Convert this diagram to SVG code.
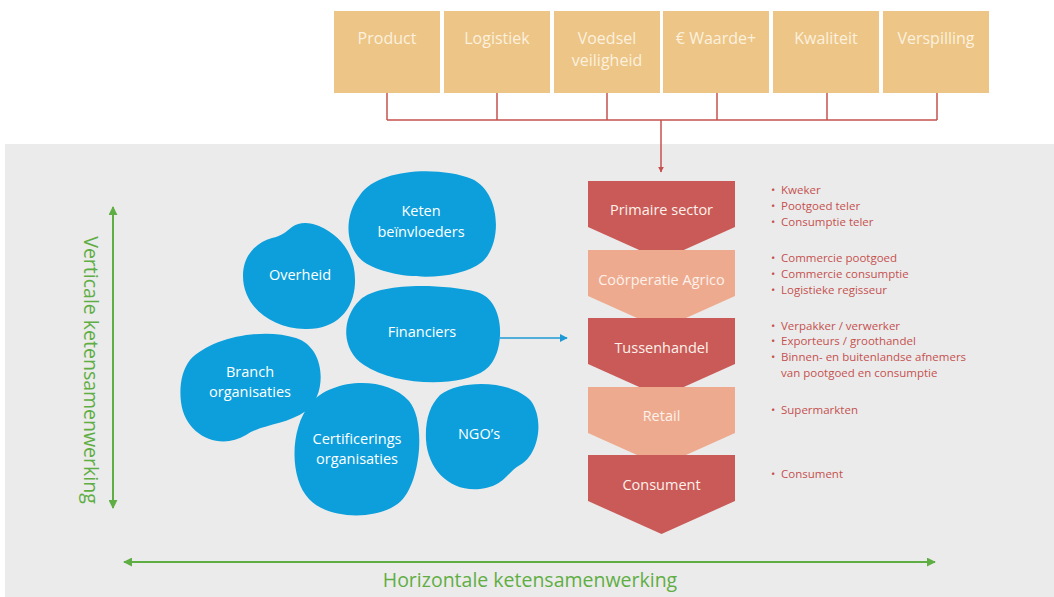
<svg xmlns="http://www.w3.org/2000/svg" width="1054" height="597" viewBox="0 0 1054 597">
<defs>
<style>
.box{fill:#ecc587}
.bt{font-family:"Open Sans","Noto Sans",sans-serif;font-size:16px;fill:#fdf1de;text-anchor:middle}
.blob{fill:#0c9fdc}
.blt{font-family:"Open Sans","Noto Sans",sans-serif;font-size:14.5px;fill:#ffffff;text-anchor:middle}
.cd{fill:#c95a58}
.cl{fill:#eeaa8e}
.ct{font-family:"Open Sans","Noto Sans",sans-serif;font-size:14.5px;fill:#fdf1ea;text-anchor:middle}
.li{font-family:"Open Sans","Noto Sans",sans-serif;font-size:11.5px;fill:#c5514f}
.gt{font-family:"Open Sans","Noto Sans",sans-serif;font-size:19.5px;fill:#5fae44;text-anchor:middle}
.red{stroke:#c5514f;stroke-width:1.5;fill:none}
.grn{stroke:#5fae44;stroke-width:2;fill:none}
</style>
<marker id="ar" viewBox="0 0 10 10" refX="9" refY="5" markerWidth="6" markerHeight="6" orient="auto-start-reverse" markerUnits="userSpaceOnUse"><path d="M0,0 L10,5 L0,10 Z" fill="#c5514f"/></marker>
<marker id="ab" viewBox="0 0 10 10" refX="9" refY="5" markerWidth="8" markerHeight="8" orient="auto" markerUnits="userSpaceOnUse"><path d="M0,0 L10,5 L0,10 Z" fill="#1d9ad6"/></marker>
<marker id="ag" viewBox="0 0 10 10" refX="9" refY="5" markerWidth="9" markerHeight="9" orient="auto-start-reverse" markerUnits="userSpaceOnUse"><path d="M0,0 L10,5 L0,10 Z" fill="#5fae44"/></marker>
</defs>
<rect x="0" y="0" width="1054" height="597" fill="#ffffff"/>
<rect x="5" y="144" width="1049" height="453" fill="#ebebeb"/>

<g id="box-product"><rect class="box" x="334" y="11" width="106" height="82"/><text class="bt" x="387" y="44">Product</text></g>
<g id="box-logistiek"><rect class="box" x="444" y="11" width="106" height="82"/><text class="bt" x="497" y="44">Logistiek</text></g>
<g id="box-voedsel"><rect class="box" x="554" y="11" width="106" height="82"/><text class="bt" x="607" y="44">Voedsel</text><text class="bt" x="607" y="66">veiligheid</text></g>
<g id="box-waarde"><rect class="box" x="663" y="11" width="106" height="82"/><text class="bt" x="716" y="44">€ Waarde+</text></g>
<g id="box-kwaliteit"><rect class="box" x="773" y="11" width="106" height="82"/><text class="bt" x="826" y="44">Kwaliteit</text></g>
<g id="box-verspilling"><rect class="box" x="883" y="11" width="106" height="82"/><text class="bt" x="936" y="44">Verspilling</text></g>

<g id="connectors">
<path class="red" d="M387,93 V120 M497,93 V120 M607,93 V120 M717,93 V120 M827,93 V120 M937,93 V120 M387,120 H937"/>
<path class="red" d="M661,120 V172" marker-end="url(#ar)"/>
<path d="M500,338 H567" stroke="#1d9ad6" stroke-width="1.5" fill="none" marker-end="url(#ab)"/>
<path class="grn" d="M113,508 V207" marker-start="url(#ag)" marker-end="url(#ag)"/>
<path class="grn" d="M124,562 H935" marker-start="url(#ag)" marker-end="url(#ag)"/>
</g>

<g id="blob-keten"><path class="blob" d="M360,195 C378,168 440,166 472,179 C502,193 502,245 482,262 C456,283 390,280 364,262 C344,247 344,215 360,195 Z"/><text class="blt" x="421" y="216">Keten</text><text class="blt" x="421" y="237">beïnvloeders</text></g>
<g id="blob-overheid"><path class="blob" d="M243,276 C243,256 255,243 272,238 C281,236 286,232 292,227 C299,222 309,222 319,226 C342,236 356,256 355,283 C354,312 334,330 305,329 C270,328 243,306 243,276 Z"/><text class="blt" x="300" y="280">Overheid</text></g>
<g id="blob-financiers"><path class="blob" d="M360,300 C380,282 442,284 477,292 C507,301 506,356 485,370 C460,388 395,386 364,365 C341,350 341,318 360,300 Z"/><text class="blt" x="422" y="337">Financiers</text></g>
<g id="blob-branch"><path class="blob" d="M190,360 C210,338 262,327 296,338 C327,348 327,396 306,411 C286,425 262,424 246,435 C220,451 185,436 181,402 C179,386 182,370 190,360 Z"/><text class="blt" x="250" y="377">Branch</text><text class="blt" x="250" y="397">organisaties</text></g>
<g id="blob-cert"><path class="blob" d="M310,404 C331,378 386,375 409,401 C426,421 421,481 401,501 C380,521 328,520 309,499 C289,478 290,428 310,404 Z"/><text class="blt" x="357" y="444">Certificerings</text><text class="blt" x="357" y="464">organisaties</text></g>
<g id="blob-ngo"><path class="blob" d="M440,395 C461,379 512,380 531,401 C545,421 538,455 520,465 C506,473 505,486 480,489 C450,492 428,470 426,440 C425,420 430,405 440,395 Z"/><text class="blt" x="479" y="439">NGO’s</text></g>

<g id="chev-primaire"><path class="cd" d="M588,181 H735 V227 L661.5,260 L588,227 Z"/><text class="ct" x="661.5" y="215">Primaire sector</text></g>
<g id="chev-coop"><path class="cl" d="M588,250 H735 V296 L661.5,329 L588,296 Z"/><text class="ct" x="661.5" y="285">Coörperatie Agrico</text></g>
<g id="chev-tussen"><path class="cd" d="M588,318 H735 V364 L661.5,397 L588,364 Z"/><text class="ct" x="661.5" y="353">Tussenhandel</text></g>
<g id="chev-retail"><path class="cl" d="M588,387 H735 V433 L661.5,466 L588,433 Z"/><text class="ct" x="661.5" y="421">Retail</text></g>
<g id="chev-consument"><path class="cd" d="M588,455 H735 V501 L661.5,534 L588,501 Z"/><text class="ct" x="661.5" y="490">Consument</text></g>

<g id="lists">
<text class="li" x="771" y="194">•<tspan x="781">Kweker</tspan></text>
<text class="li" x="771" y="210">•<tspan x="781">Pootgoed teler</tspan></text>
<text class="li" x="771" y="226">•<tspan x="781">Consumptie teler</tspan></text>
<text class="li" x="771" y="262">•<tspan x="781">Commercie pootgoed</tspan></text>
<text class="li" x="771" y="278">•<tspan x="781">Commercie consumptie</tspan></text>
<text class="li" x="771" y="294">•<tspan x="781">Logistieke regisseur</tspan></text>
<text class="li" x="771" y="330">•<tspan x="781">Verpakker / verwerker</tspan></text>
<text class="li" x="771" y="345">•<tspan x="781">Exporteurs / groothandel</tspan></text>
<text class="li" x="771" y="361">•<tspan x="781">Binnen- en buitenlandse afnemers</tspan></text>
<text class="li" x="781" y="377">van pootgoed en consumptie</text>
<text class="li" x="771" y="414">•<tspan x="781">Supermarkten</tspan></text>
<text class="li" x="771" y="478">•<tspan x="781">Consument</tspan></text>
</g>

<text class="gt" transform="translate(84,370) rotate(90)">Verticale ketensamenwerking</text>
<text class="gt" x="530" y="587">Horizontale ketensamenwerking</text>
</svg>
